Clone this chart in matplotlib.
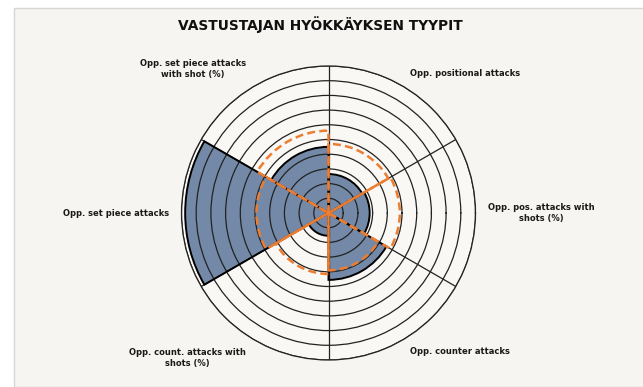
import numpy as np
import matplotlib
matplotlib.use("Agg")
import matplotlib.pyplot as plt
from matplotlib.patches import Rectangle

# sector centres (degrees, counter-clockwise from east)
angles_deg = [60, 0, -60, -120, 180, 120]
labels = [
    "Opp. positional attacks",
    "Opp. pos. attacks with\nshots (%)",
    "Opp. counter attacks",
    "Opp. count. attacks with\nshots (%)",
    "Opp. set piece attacks",
    "Opp. set piece attacks\nwith shot (%)",
]
team_values = [2.65, 2.8, 4.55, 1.55, 9.75, 4.5]
avg_values = [4.7, 4.85, 3.9, 4.15, 4.9, 5.6]

BLUE = "#7389a7"
ORANGE = "#ed7d31"
BG = "#f6f5f1"

W, H = 643, 387
fig = plt.figure(figsize=(W / 100, H / 100), dpi=100)
fig.patch.set_facecolor("white")
fig.patches.append(Rectangle((14 / W, 0), 1, 1 - 8 / H, transform=fig.transFigure,
                             facecolor=BG, edgecolor="#d6d6d6", lw=1.0, zorder=-10))

cx, cy, rad = 328.5, 213, 147
ax = fig.add_axes([(cx - rad) / W, (H - cy - rad) / H, 2 * rad / W, 2 * rad / H],
                  projection="polar")
ax.set_zorder(1)
ax.set_facecolor("#f9f8f5")
ax.set_theta_zero_location("E")
ax.set_theta_direction(1)

theta = np.deg2rad(angles_deg)
width = np.deg2rad(60)

ax.bar(theta, team_values, width=width, color=BLUE, edgecolor="none", zorder=1)
ax.bar(theta, team_values, width=width, fill=False, edgecolor="black", lw=1.4, zorder=3)
ax.bar(theta, avg_values, width=width, fill=False, edgecolor=ORANGE, lw=1.8,
       linestyle=(0, (3.2, 1.7)), zorder=4)

ax.set_ylim(0, 10)
ax.set_yticks(np.arange(1, 11))
ax.set_yticklabels([])
ax.set_xticks(np.deg2rad([30, 90, 150, 210, 270, 330]))
ax.set_xticklabels([])
ax.tick_params(length=0)
ax.grid(True, color="#222222", lw=0.9)
for gl in ax.xaxis.get_gridlines() + ax.yaxis.get_gridlines():
    gl.set_zorder(2)
ax.spines["polar"].set_color("#222222")
ax.spines["polar"].set_linewidth(0.9)

# category labels around the wheel
label_pos = [(410, 74, "left"), (541, 213, "center"), (410, 352, "left"),
             (187, 358, "center"), (116, 213, "center"), (193, 69, "center")]
for text, (x, y, ha) in zip(labels, label_pos):
    fig.text(x / W, 1 - y / H, text, ha=ha, va="center", fontsize=6,
             fontweight="bold", color="#1a1a1a", linespacing=1.25, zorder=5)

fig.text(320 / W, 1 - 25 / H, "VASTUSTAJAN HYÖKKÄYKSEN TYYPIT", ha="center",
         va="center", fontsize=9.9, fontweight="bold", color="#111111", zorder=5)

fig.savefig("out.png", dpi=100, facecolor=fig.get_facecolor())
